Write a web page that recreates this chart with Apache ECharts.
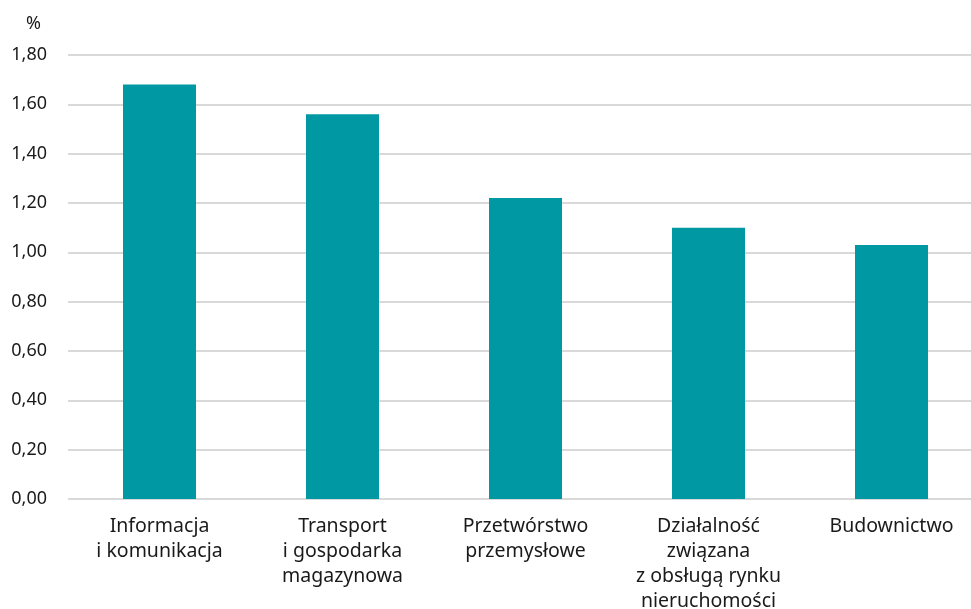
<!DOCTYPE html>
<html>
<head>
<meta charset="utf-8">
<script src="https://cdn.jsdelivr.net/npm/echarts@6/dist/echarts.min.js"></script>
<style>html,body{margin:0;padding:0;background:#fff}#c{width:971px;height:609px}</style>
</head>
<body>
<div id="c"></div>
<script>
const categories = [
  "Informacja\ni komunikacja",
  "Transport\ni gospodarka\nmagazynowa",
  "Przetwórstwo\nprzemysłowe",
  "Działalność\nzwiązana\nz obsługą rynku\nnieruchomości",
  "Budownictwo"
];
const values = [1.68, 1.56, 1.22, 1.10, 1.03];
const yTicks = { min: 0, max: 1.8, interval: 0.2 };
const unitLabel = "%";

const chart = echarts.init(document.getElementById('c'));
chart.setOption({
  animation: false,
  textStyle: { fontFamily: "Noto Sans" },
  grid: { left: 68, right: -12, top: 55, bottom: 110, containLabel: false, outerBoundsMode: 'none' },
  xAxis: {
    type: 'category',
    data: categories,
    axisLine: { show: false },
    axisTick: { show: false },
    axisLabel: { color: '#1a1a1a', fontSize: 19.5, lineHeight: 25, margin: 15, interval: 0, fontFamily: "Noto Sans" }
  },
  yAxis: {
    type: 'value',
    min: yTicks.min, max: yTicks.max, interval: yTicks.interval,
    name: unitLabel,
    nameLocation: 'end',
    nameGap: 22,
    nameTextStyle: { color: '#1a1a1a', fontSize: 18, align: 'right', padding: [0, 27, 0, 0] },
    axisLine: { show: false },
    axisTick: { show: false },
    splitLine: { lineStyle: { color: '#d9d9d9', width: 2 } },
    axisLabel: {
      color: '#1a1a1a', fontSize: 18, margin: 21,
      formatter: v => v.toFixed(2).replace('.', ',')
    }
  },
  series: [{
    type: 'bar',
    data: values,
    barWidth: 73,
    itemStyle: { color: '#0099A3' }
  }]
});
</script>
</body>
</html>
